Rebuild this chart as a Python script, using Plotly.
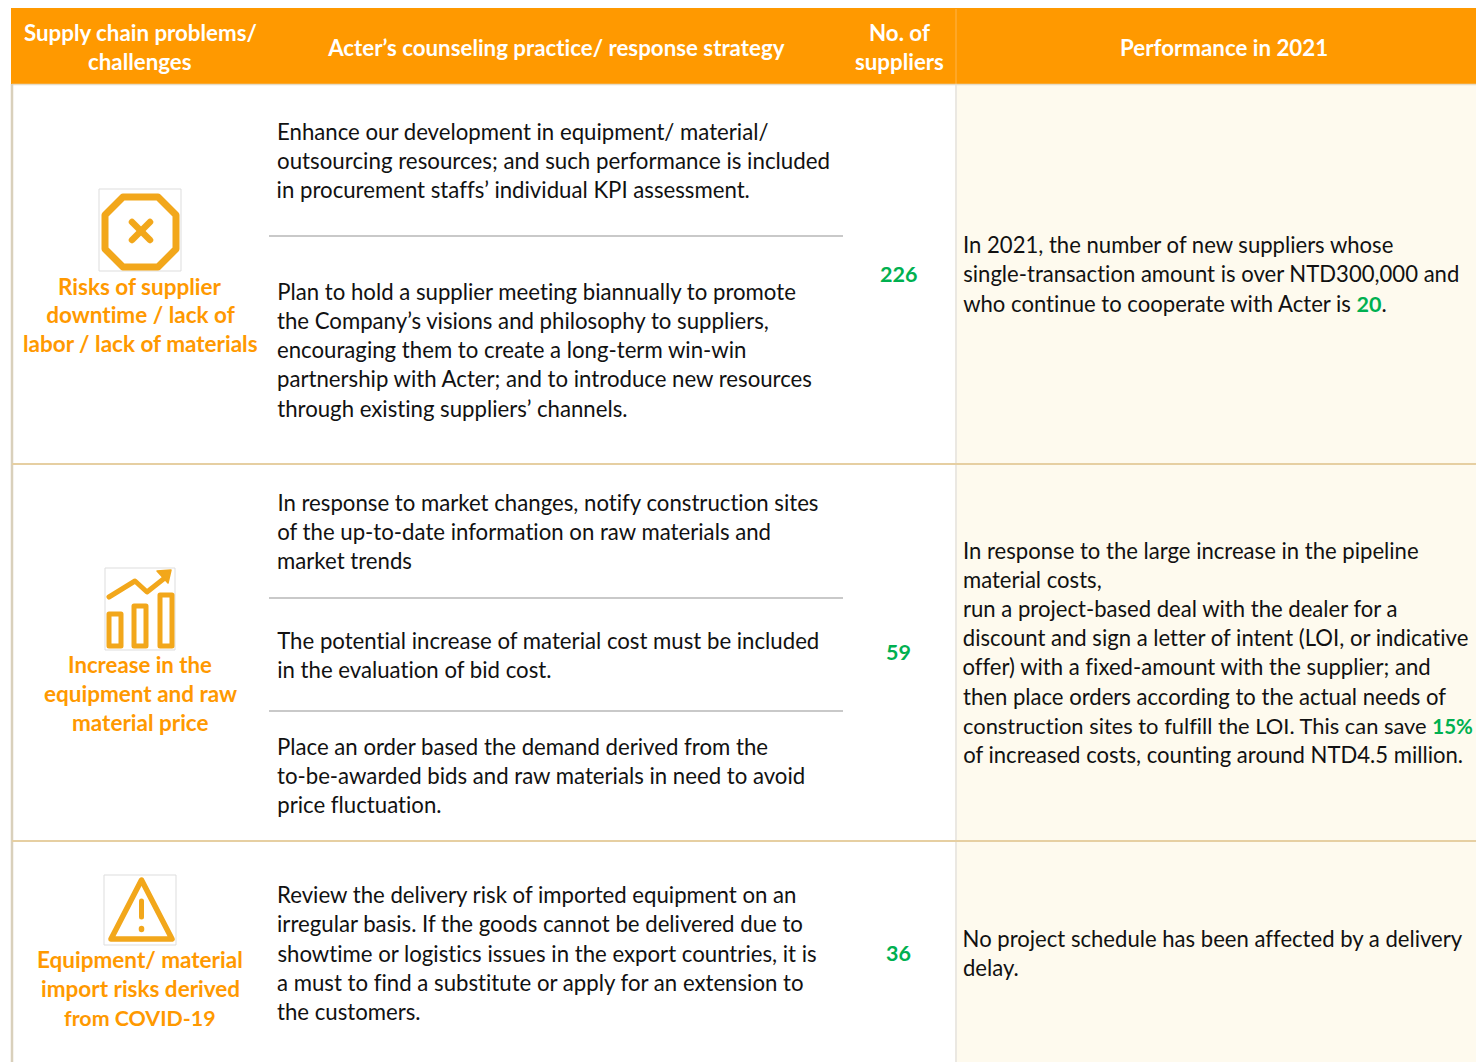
import re
import plotly.graph_objects as go

# ---------- Content ----------
header_texts = [
    "Supply chain problems/", "challenges",
    "Acter’s counseling practice/ response strategy",
    "No. of", "suppliers",
    "Performance in 2021",
]
problem_lines = [
    "Risks of supplier", "downtime / lack of", "labor / lack of materials",
    "Increase in the", "equipment and raw", "material price",
    "Equipment/ material", "import risks derived", "from COVID-19",
]
practice_lines = [
    "Enhance our development in equipment/ material/",
    "outsourcing resources; and such performance is included",
    "in procurement staffs’ individual KPI assessment.",
    "Plan to hold a supplier meeting biannually to promote",
    "the Company’s visions and philosophy to suppliers,",
    "encouraging them to create a long-term win-win",
    "partnership with Acter; and to introduce new resources",
    "through existing suppliers’ channels.",
    "In response to market changes, notify construction sites",
    "of the up-to-date information on raw materials and",
    "market trends",
    "The potential increase of material cost must be included",
    "in the evaluation of bid cost.",
    "Place an order based the demand derived from the",
    "to-be-awarded bids and raw materials in need to avoid",
    "price fluctuation.",
    "Review the delivery risk of imported equipment on an",
    "irregular basis. If the goods cannot be delivered due to",
    "showtime or logistics issues in the export countries, it is",
    "a must to find a substitute or apply for an extension to",
    "the customers.",
]
supplier_counts = ["226", "59", "36"]
performance_lines = [
    "In 2021, the number of new suppliers whose",
    "single-transaction amount is over NTD300,000 and",
    "who continue to cooperate with Acter is 20.",
    "In response to the large increase in the pipeline",
    "material costs,",
    "run a project-based deal with the dealer for a",
    "discount and sign a letter of intent (LOI, or indicative",
    "offer) with a fixed-amount with the supplier; and",
    "then place orders according to the actual needs of",
    "construction sites to fulfill the LOI. This can save 15%",
    "of increased costs, counting around NTD4.5 million.",
    "No project schedule has been affected by a delivery",
    "delay.",
]
performance_highlights = ["20", "15%"]

# ---------- Layout and styles ----------
FONT = "Lato"
ORANGE = "#FF9900"
ICON = "#F2A71B"
GREEN = "#00B050"
INK = "#111111"

header_x = [140, 140, 556, 899, 899, 1224]
header_y = [32, 61, 47, 32, 61, 47]
problem_y = [286.5, 314.5, 343.5, 664.5, 693.5, 722.5, 959.5, 988.5, 1017.5]
practice_y = [131, 160, 189, 291, 320, 349, 378, 408, 502, 531, 560, 640, 669,
              746, 775, 804, 894, 923, 953, 982, 1011]
count_y = [274, 652, 953]
performance_y = [244, 273, 303, 550, 579, 608, 637, 666, 696, 725, 754, 938, 967]
inner_rules = [236, 598, 711]
row_rules = [464, 841]
size_overrides = {
    "from COVID-19": 21.4,
    "Increase in the": 22.2,
    "construction sites to fulfill the LOI. This can save 15%": 21.9,
    "outsourcing resources; and such performance is included": 22.3,
}
highlight_sizes = {"20": 21.5, "15%": 20.5}

shapes, annotations = [], []


def rect(x0, y0, x1, y1, fill, line=None, lw=0):
    shapes.append(dict(type="rect", xref="x", yref="y", x0=x0, y0=y0, x1=x1, y1=y1,
                       fillcolor=fill, line=dict(color=line or fill, width=lw), layer="below"))


def seg(x0, y0, x1, y1, color, w):
    shapes.append(dict(type="line", xref="x", yref="y", x0=x0, y0=y0, x1=x1, y1=y1,
                       line=dict(color=color, width=w), layer="below"))


def path(d, color, w, fill="rgba(0,0,0,0)"):
    shapes.append(dict(type="path", xref="x", yref="y", path=d, fillcolor=fill,
                       line=dict(color=color, width=w), layer="above"))


def label(text, x, y, color, size, anchor, bold=False):
    annotations.append(dict(xref="x", yref="y", x=x, y=y, text=f"<b>{text}</b>" if bold else text,
                            showarrow=False, xanchor=anchor, yanchor="middle", borderpad=0,
                            font=dict(family=FONT, size=size, color=color)))


def highlighted(text):
    for h in performance_highlights:
        pattern = r"(?<![\w,])" + re.escape(h) + r"(?!\w)"
        if re.search(pattern, text):
            span = f"<b><span style='color:{GREEN};font-size:{highlight_sizes[h]}px'>{h}</span></b>"
            return re.sub(pattern, span, text)
    return text


# Backgrounds and rules
rect(957, 85, 1476, 1062, "#FEFAEE")
rect(11, 8, 1476, 84, ORANGE)
seg(956, 9, 956, 84, "#FFAD33", 1.5)
seg(12, 84.5, 1476, 84.5, "#E6DCC6", 1.5)
seg(956, 85, 956, 1062, "#E4E0D8", 1.5)
seg(12, 84, 12, 1062, "#D9D0BB", 2.5)
for y in row_rules:
    seg(12, y, 1476, y, "#E6CFA2", 2)
for y in inner_rules:
    seg(269, y, 843, y, "#C9C9C9", 2)

# Icon boxes
for x0, y0, x1, y1 in [(99, 189, 181, 271), (105, 568, 175, 650), (104, 875, 176, 945)]:
    rect(x0, y0, x1, y1, "#FFFFFF", "#DDDDDD", 1)

# Octagon icon
path("M 123 197 L 158 197 L 176 215 L 176 249 L 158 267 L 123 267 L 105 249 L 105 215 Z", ICON, 7)
path("M 132 222 L 150 240", ICON, 6.5)
path("M 150 222 L 132 240", ICON, 6.5)

# Bars and arrow icon
for x0, y0, x1, y1 in [(109, 614, 121, 646), (134, 606, 146, 646), (160, 595, 172, 646)]:
    path(f"M {x0} {y0} L {x1} {y0} L {x1} {y1} L {x0} {y1} Z", ICON, 5)
path("M 109 597 L 135 581 L 147 592 L 166 577", ICON, 5)
path("M 157 571 L 171 570 L 168 583 Z", ICON, 1.5, ICON)

# Warning icon
path("M 141.5 880 L 172 939 L 111 939 Z", ICON, 5.5)
path("M 141.5 901 L 141.5 917", ICON, 5)
path("M 141.5 928.5 L 141.5 929.5", ICON, 5.5)

# Text
for t, x, y in zip(header_texts, header_x, header_y):
    label(t, x, y, "#FFFFFF", 22.3, "center", True)
for t, y in zip(problem_lines, problem_y):
    label(t, 140, y, ORANGE, size_overrides.get(t, 22.5), "center", True)
for t, y in zip(practice_lines, practice_y):
    label(t, 276, y, INK, size_overrides.get(t, 22.2), "left")
for t, y in zip(supplier_counts, count_y):
    label(t, 898.5, y, GREEN, 21.5, "center", True)
for t, y in zip(performance_lines, performance_y):
    label(highlighted(t), 962, y, INK, size_overrides.get(t, 22.1), "left")

fig = go.Figure()
fig.update_layout(
    width=1476, height=1062, margin=dict(l=0, r=0, t=0, b=0, pad=0),
    paper_bgcolor="#FFFFFF", plot_bgcolor="rgba(0,0,0,0)", showlegend=False,
    xaxis=dict(range=[0, 1476], visible=False, fixedrange=True),
    yaxis=dict(range=[1062, 0], visible=False, fixedrange=True),
    shapes=shapes, annotations=annotations,
)
fig.write_html(
    "out.html",
    config=dict(displayModeBar=False),
    post_script=(
        "document.documentElement.style.overflow='hidden';"
        "document.body.style.margin='0';"
        "var s=document.createElement('style');"
        "s.textContent='.layer-above .shapelayer path{stroke-linecap:round;stroke-linejoin:round}"
        " svg text, svg tspan{font-variant-ligatures:none;font-feature-settings:\"liga\" 0}';"
        "document.head.appendChild(s);"
    ),
)
